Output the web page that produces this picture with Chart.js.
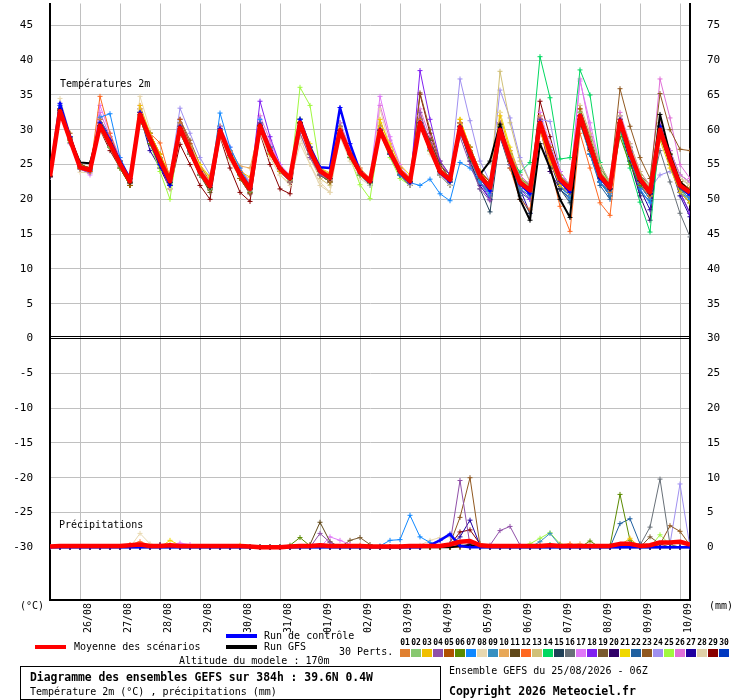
<!DOCTYPE html>
<html lang="fr">
<head>
    <meta charset="UTF-8">
    <title>Ensemble GEFS</title>
    <style>
        * { margin: 0; padding: 0; box-sizing: border-box; }
        body { background: #ffffff; width: 740px; height: 700px; overflow: hidden; }
        canvas { display: block; }
    </style>
</head>
<body>
    <canvas id="gefsChart" width="740" height="700"></canvas>

    <script src="https://cdn.jsdelivr.net/npm/chart.js"></script>
    <script>
        // forecast hours, every 6h from 25/08 06Z
        const hours = [0, 6, 12, 18, 24, 30, 36, 42, 48, 54, 60, 66, 72, 78, 84, 90, 96, 102, 108, 114,
            120, 126, 132, 138, 144, 150, 156, 162, 168, 174, 180, 186, 192, 198, 204, 210, 216, 222, 228, 234,
            240, 246, 252, 258, 264, 270, 276, 282, 288, 294, 300, 306, 312, 318, 324, 330, 336, 342, 348, 354,
            360, 366, 372, 378, 384];

        const dateHours = [18, 42, 66, 90, 114, 138, 162, 186, 210, 234, 258, 282, 306, 330, 354, 378];
        const dateLabels = ['26/08', '27/08', '28/08', '29/08', '30/08', '31/08', '01/09', '02/09',
            '03/09', '04/09', '05/09', '06/09', '07/09', '08/09', '09/09', '10/09'];

        const leftTicks = [-30, -25, -20, -15, -10, -5, 0, 5, 10, 15, 20, 25, 30, 35, 40, 45];
        const rightTickLabels = ['0', '5', '10', '15', '20', '25', '30', '35', '40', '45', '50', '55', '60', '65', '70', '75'];
        const rainOffset = -30; // precipitation drawn on the lower panel: 0 mm sits at -30

        const pertColors = ['#e08030', '#88c870', '#f0c000', '#9050a8', '#b05000', '#5a8a00', '#1088ff', '#e8d8b0',
            '#3890c0', '#e8a858', '#604818', '#ff6820', '#d0c078', '#00d860', '#204058', '#687078', '#e078f8',
            '#8020f0', '#7a5a30', '#300068', '#f0d800', '#2060a0', '#905820', '#a090f0', '#a0f840', '#e070d8',
            '#2000a0', '#e0d0a8', '#880000', '#0038c0'];

        // 2m temperature (°C)
        const tMean = [23.3, 32.7,28.6,24.6,24.2, 30.6,28.0,25.1,22.6, 32.2,28.7,25.6,22.6, 30.3,27.0,23.9,21.9, 29.9,26.3,23.6,21.5, 30.6,27.0,24.4,23.0, 31.0,27.0,24.1,23.1, 29.9,26.5,23.9,22.6, 29.9,26.8,24.0,22.6, 31.0,27.4,24.0,22.8, 30.4,26.7,23.4,21.7, 30.0,25.8,22.4,21.3, 31.0,26.7,22.9,21.5, 32.0,27.7,23.4,21.7, 31.3,26.7,22.9,21.0, 30.0,25.8,22.0,21.0];
        const tCtrl = [23.3, 33.8,29.0,24.7,24.2, 31.0,28.5,25.5,23.0, 32.5,28.5,25.0,22.0, 30.5,27.0,24.0,22.0, 30.2,26.5,23.8,21.6, 30.8,27.2,24.4,23.0, 31.5,27.5,24.6,24.5, 33.2,28.0,24.0,22.5, 30.0,26.5,23.8,22.4, 31.0,27.2,23.8,22.5, 30.5,26.5,23.2,21.2, 30.3,25.8,22.2,20.8, 31.2,26.6,22.6,21.0, 32.0,27.5,23.0,21.5, 31.5,26.8,22.6,20.8, 30.5,25.8,21.8,20.6];
        const tGfs = [23.3, 32.8,28.8,25.3,25.2, 30.6,28.0,25.1,22.4, 32.2,28.5,25.4,22.4, 30.2,26.8,23.8,21.7, 29.8,26.3,23.6,21.5, 30.6,27.0,24.4,23.0, 31.0,27.0,24.1,23.0, 29.9,26.5,23.8,22.5, 29.9,26.8,24.0,22.6, 31.0,27.4,24.0,22.8, 30.4,26.7,23.6,25.5, 30.8,25.5,20.0,17.0, 28.0,24.5,20.0,17.4, 31.5,27.2,23.2,21.5, 31.0,26.5,22.7,20.8, 32.2,26.5,22.5,21.2];

        const t01 = [23.2, 33.0,28.8,24.5,24.0, 31.5,28.5,25.0,22.4, 32.5,29.0,25.8,22.8, 31.0,27.5,24.2,22.0, 30.2,26.8,24.0,21.8, 30.8,27.3,24.6,23.2, 30.5,26.8,24.0,22.8, 30.5,27.0,24.2,22.8, 30.2,27.0,24.5,23.0, 31.5,27.8,24.5,23.2, 31.0,27.0,23.8,22.0, 29.5,25.5,22.8,21.0, 30.5,26.0,22.5,21.2, 31.5,27.0,23.0,21.0, 30.8,26.5,22.5,20.5, 29.5,25.5,22.5,21.5];
        const t02 = [23.3, 32.5,29.0,24.8,24.3, 30.0,27.5,25.0,22.8, 31.8,28.5,25.5,22.5, 29.8,26.5,23.5,21.5, 29.5,26.0,23.4,21.2, 30.2,26.8,24.2,22.8, 31.5,27.5,24.3,23.3, 29.5,26.2,23.5,22.3, 29.8,26.5,23.8,22.5, 30.8,27.0,23.8,22.5, 30.0,26.5,23.2,21.5, 30.5,26.5,23.0,21.8, 31.0,27.0,23.5,22.0, 32.5,28.5,24.0,22.0, 31.0,27.0,23.5,21.5, 29.5,25.5,22.0,20.5];
        const t03 = [23.4, 32.8,28.5,24.5,24.0, 31.0,28.2,25.5,23.0, 33.5,29.5,26.5,23.0, 30.5,27.5,24.5,23.2, 29.5,26.0,24.0,23.2, 30.0,26.5,24.0,22.8, 31.2,27.5,24.5,23.8, 30.2,26.8,24.2,22.8, 31.5,27.5,24.5,22.8, 30.5,27.0,23.8,22.5, 31.5,27.5,24.0,22.0, 32.0,27.0,23.0,21.8, 30.0,25.5,22.0,20.8, 31.5,27.5,23.5,22.0, 31.5,26.5,22.5,20.5, 28.5,24.5,21.0,19.5];
        const t04 = [23.2, 32.5,28.0,24.3,23.8, 30.5,27.8,24.8,22.5, 32.0,28.5,25.3,22.0, 30.0,26.5,23.5,21.5, 30.0,26.2,23.5,21.2, 31.0,27.0,24.0,22.5, 29.5,26.0,23.5,22.8, 30.0,26.5,23.8,22.3, 30.0,27.0,24.0,22.3, 32.5,28.0,24.5,22.5, 29.0,25.0,21.5,19.8, 29.0,25.0,22.0,21.0, 31.5,27.0,22.8,21.0, 32.0,27.5,23.5,21.5, 31.0,27.0,23.0,21.0, 30.5,26.0,22.0,20.5];
        const t05 = [23.3, 33.0,29.5,25.0,24.5, 31.0,28.0,25.0,22.0, 32.5,29.5,26.5,23.0, 31.5,28.0,24.0,21.5, 30.0,26.5,23.0,20.8, 30.5,26.5,24.0,22.5, 31.0,27.0,24.0,22.5, 30.0,26.5,24.0,22.8, 29.5,26.5,24.2,22.8, 31.5,28.0,24.5,22.8, 30.5,27.0,24.0,22.5, 30.5,26.5,22.8,21.5, 31.5,27.5,23.5,22.0, 33.0,28.5,24.0,22.0, 31.0,27.0,23.0,21.0, 30.0,26.0,22.5,21.5];
        const t06 = [23.3, 32.3,28.2,24.4,24.0, 30.5,27.5,24.5,22.0, 31.5,28.0,25.0,22.0, 29.5,26.5,23.5,21.3, 29.5,26.0,23.0,21.0, 30.5,27.0,24.0,22.8, 31.0,26.5,23.5,22.5, 29.5,26.0,23.5,22.3, 29.5,26.5,24.0,22.5, 30.5,27.0,24.0,22.8, 30.0,26.0,23.0,21.5, 29.5,25.5,22.0,21.0, 30.0,26.0,22.5,21.0, 31.0,27.0,23.0,21.5, 29.0,25.0,22.0,21.0, 29.0,25.0,21.5,20.5];
        const t07 = [23.2, 33.5,29.0,24.8,24.5, 31.8,32.3,26.0,23.0, 32.5,29.5,26.0,22.5, 31.0,27.5,24.0,22.0, 32.4,27.5,24.5,22.0, 31.5,27.5,24.5,22.8, 31.5,27.5,24.2,23.0, 30.5,27.0,24.0,22.8, 30.0,26.5,23.5,22.4, 22.0,22.9,20.8,19.8, 25.3,24.5,22.5,20.8, 29.5,25.5,22.0,20.8, 30.5,26.0,22.0,20.5, 31.5,26.5,22.5,20.8, 30.5,26.0,21.5,19.5, 29.5,25.0,21.0,20.0];
        const t08 = [23.4, 34.5,29.5,23.9,23.8, 30.0,27.5,24.5,22.5, 34.8,30.0,25.0,21.5, 29.5,26.5,23.5,21.5, 29.0,25.5,23.0,21.0, 30.0,26.0,23.5,22.3, 28.0,25.0,22.5,21.0, 29.0,25.5,23.0,22.0, 33.0,27.5,24.0,22.0, 31.0,26.5,23.5,22.0, 30.5,26.5,23.0,21.0, 32.5,26.0,22.0,21.0, 31.5,27.5,23.5,21.8, 32.5,28.0,24.0,22.0, 31.0,26.5,22.5,21.0, 30.0,26.0,23.0,22.0];
        const t09 = [23.3, 32.5,28.5,24.5,24.2, 30.5,28.0,25.5,23.0, 31.5,28.5,25.5,22.5, 30.0,27.0,24.0,22.0, 30.0,26.5,23.8,21.8, 30.0,26.5,24.5,23.0, 31.0,27.0,24.0,23.0, 29.5,26.0,23.5,22.5, 29.5,26.5,23.5,22.0, 30.5,27.0,23.5,22.0, 30.0,26.0,22.5,20.5, 29.5,25.0,21.5,20.5, 30.5,26.0,22.0,20.0, 31.0,26.5,22.5,20.5, 30.5,26.0,22.0,20.0, 30.0,25.5,21.5,20.0];
        const t10 = [23.2, 32.8,28.5,24.7,24.3, 31.0,28.5,25.5,23.0, 32.0,28.5,26.0,23.5, 30.5,27.5,24.5,22.5, 30.0,27.0,24.8,24.5, 30.5,27.0,24.5,23.0, 31.5,27.5,24.5,23.5, 30.5,27.0,24.5,23.0, 30.5,27.5,24.5,23.0, 31.0,27.5,24.0,23.0, 31.0,27.0,23.5,22.0, 30.0,26.0,23.0,21.5, 32.0,27.5,23.5,22.0, 32.5,28.0,24.0,22.5, 31.5,27.0,23.5,21.5, 30.0,26.0,22.5,21.5];
        const t11 = [23.3, 33.0,29.0,25.0,24.5, 30.5,27.5,24.5,22.0, 32.0,29.5,26.0,22.5, 30.5,27.0,23.5,21.0, 29.5,26.0,23.0,21.0, 30.5,27.0,24.5,23.0, 31.5,27.0,24.0,23.0, 30.0,26.5,23.5,22.5, 30.5,27.0,23.5,22.0, 31.5,28.5,25.0,23.0, 31.0,27.5,24.0,22.5, 30.5,26.0,22.5,21.5, 31.5,27.0,23.0,21.5, 32.0,27.5,23.5,22.0, 31.0,27.0,23.0,21.5, 30.5,26.5,22.5,21.5];
        const t12 = [23.3, 32.8,28.5,24.5,24.0, 34.8,29.5,25.5,23.0, 32.0,29.5,28.1,23.0, 30.0,27.0,24.0,22.0, 30.0,26.5,24.0,22.0, 30.5,27.0,24.5,23.0, 31.0,27.0,24.0,23.0, 30.0,26.5,23.5,22.5, 29.5,26.5,23.5,22.0, 30.5,27.0,23.5,22.0, 30.0,26.0,22.5,21.0, 29.5,24.5,20.0,18.5, 30.0,25.0,19.0,15.4, 29.5,24.5,19.5,17.7, 30.5,26.0,22.0,20.5, 29.5,25.0,21.5,20.5];
        const t13 = [23.4, 32.5,28.5,24.5,24.0, 31.0,28.0,25.0,22.5, 33.0,29.0,25.5,22.5, 30.5,27.5,24.0,21.8, 30.0,26.5,23.5,21.5, 30.0,26.5,24.0,22.5, 29.5,26.0,23.0,22.0, 30.0,26.5,24.0,22.5, 30.5,27.0,24.5,23.0, 31.5,28.0,24.5,23.0, 31.0,27.0,23.5,22.0, 38.4,31.0,25.5,22.5, 31.0,26.5,22.5,21.0, 33.5,29.5,25.0,22.5, 32.0,28.0,24.0,22.0, 30.5,26.5,23.0,22.0];
        const t14 = [23.3, 32.5,28.5,24.5,24.2, 30.0,27.5,25.0,22.5, 31.5,28.5,25.5,22.5, 30.0,27.0,23.5,21.5, 29.5,26.0,23.5,21.5, 30.5,27.0,24.5,23.0, 31.0,27.0,24.0,23.0, 29.5,26.5,23.5,22.5, 29.5,26.5,24.0,22.5, 30.5,27.0,24.0,22.5, 30.0,26.5,23.0,21.5, 29.5,26.0,23.9,25.3, 40.5,34.6,25.8,26.0, 38.6,35.0,25.3,22.0, 30.0,24.5,19.6,15.3, 30.0,25.5,22.0,21.0];
        const t15 = [23.3, 33.0,29.0,24.8,24.3, 30.5,28.5,25.5,22.5, 32.0,28.5,25.0,22.0, 30.0,26.5,23.5,21.5, 30.0,26.5,23.5,21.5, 31.0,27.5,24.5,23.0, 31.0,27.0,24.5,23.0, 30.0,26.5,24.0,22.5, 29.5,26.5,24.0,22.5, 31.0,27.5,23.5,22.0, 30.0,25.5,21.5,18.2, 29.0,24.5,20.5,18.0, 31.0,26.0,21.5,19.5, 31.5,27.0,22.5,20.5, 30.5,26.5,22.0,20.0, 29.5,25.0,21.0,19.5];
        const t16 = [23.3, 32.5,28.5,24.5,24.0, 30.5,27.5,25.0,22.5, 31.5,28.0,25.0,22.0, 29.5,26.5,23.5,21.5, 29.5,26.0,23.5,21.5, 30.0,26.5,24.0,22.5, 30.5,26.5,23.5,22.5, 29.5,26.0,23.5,22.5, 30.0,26.5,23.5,22.0, 30.5,27.0,23.5,22.0, 29.5,26.0,22.5,21.0, 29.5,25.0,21.5,20.5, 30.0,25.5,22.0,20.5, 31.0,26.5,22.5,21.0, 30.5,26.0,22.0,20.5, 27.0,22.5,18.0,14.6];
        const t17 = [23.2, 33.5,29.0,24.5,23.5, 33.5,29.5,26.0,23.0, 33.5,29.0,25.5,22.5, 31.5,28.0,24.5,22.5, 30.5,27.5,24.5,22.5, 31.0,28.0,25.0,23.5, 30.5,27.0,24.0,22.5, 31.0,27.5,24.5,23.0, 34.8,29.0,25.0,23.0, 32.0,28.0,24.5,23.0, 31.0,27.5,24.0,22.5, 31.0,27.0,23.5,22.0, 32.5,28.0,24.0,22.0, 37.0,31.0,25.0,22.5, 32.0,28.0,24.0,22.0, 31.0,27.0,23.5,22.5];
        const t18 = [23.3, 32.8,28.5,24.5,24.0, 31.0,28.0,25.0,22.5, 33.0,29.0,25.5,22.5, 30.5,27.0,24.0,22.0, 30.0,26.5,23.5,21.5, 34.1,29.0,25.0,23.0, 30.5,26.5,23.5,22.5, 30.0,26.5,23.5,22.5, 30.0,27.0,24.0,22.0, 38.5,31.5,25.5,23.5, 31.0,26.5,22.5,20.0, 30.0,25.5,21.5,20.0, 31.5,26.5,22.0,20.5, 32.5,27.5,23.0,21.0, 31.0,26.5,22.0,20.0, 30.0,25.5,21.0,18.0];
        const t19 = [23.3, 32.5,28.5,24.8,24.5, 30.0,27.5,24.8,22.3, 32.0,28.5,25.5,22.5, 30.0,27.0,23.5,21.5, 29.5,26.0,23.0,21.0, 30.5,27.0,24.0,22.5, 30.5,27.0,24.0,22.5, 29.5,26.5,23.5,22.5, 29.5,26.5,24.0,22.5, 31.5,28.5,25.0,23.5, 31.0,27.5,24.0,22.5, 31.0,27.0,23.5,22.0, 31.5,27.5,23.5,22.0, 32.5,28.0,24.0,22.0, 31.5,27.5,23.5,22.0, 31.0,27.0,23.5,22.5];
        const t20 = [23.3, 32.8,28.5,24.5,24.0, 30.5,28.0,25.0,22.5, 31.5,28.5,25.5,22.5, 30.5,27.0,24.0,22.0, 30.0,26.5,23.5,21.5, 30.5,27.0,24.5,23.0, 31.0,27.0,24.0,22.8, 30.0,26.5,23.5,22.5, 29.5,26.5,24.0,22.5, 30.5,27.5,24.0,22.5, 30.0,26.0,23.0,21.0, 29.0,25.0,22.0,21.0, 30.5,24.0,21.5,21.5, 31.0,27.0,22.5,21.0, 30.5,25.5,20.5,17.0, 29.5,25.0,21.0,18.0];
        const t21 = [23.3, 33.0,29.0,25.0,24.5, 31.0,28.5,25.5,23.0, 33.0,29.5,26.5,23.5, 31.0,28.0,25.0,23.2, 30.5,27.0,24.5,22.5, 31.0,27.5,24.5,23.5, 31.5,28.0,24.5,23.5, 31.0,27.0,24.5,23.0, 31.0,28.0,25.0,23.5, 32.0,28.0,24.5,23.0, 31.5,27.5,24.0,22.5, 32.5,27.5,23.5,22.0, 31.5,27.0,23.0,21.5, 32.5,28.0,24.0,22.0, 31.5,27.0,23.0,21.0, 31.0,26.0,21.5,19.5];
        const t22 = [23.3, 33.0,28.5,24.5,24.0, 31.5,28.5,25.0,22.5, 32.0,28.5,25.0,22.0, 30.0,27.0,23.5,21.5, 30.0,26.0,23.0,21.0, 30.5,27.0,24.5,22.5, 31.0,27.0,24.0,22.5, 30.0,26.5,23.5,22.0, 30.0,26.5,23.5,22.0, 31.0,27.0,23.5,22.0, 30.5,26.0,22.5,20.5, 30.0,25.0,21.0,20.0, 31.0,26.0,21.5,20.0, 31.5,26.5,22.0,20.0, 30.5,25.5,21.0,19.8, 30.5,25.5,21.5,20.0];
        const t23 = [23.3, 33.0,29.0,25.0,24.5, 31.0,28.0,25.0,22.5, 32.5,29.0,26.0,23.0, 31.5,28.5,25.0,22.5, 30.5,27.0,24.0,22.0, 31.0,27.5,24.5,23.0, 31.5,27.5,24.5,23.5, 30.5,27.0,24.0,23.0, 30.5,27.0,24.0,22.5, 35.3,30.0,25.5,23.5, 31.0,27.0,23.5,22.0, 31.0,26.5,23.0,22.0, 32.0,27.5,23.5,22.0, 33.0,29.0,24.5,22.5, 35.9,30.5,26.0,23.0, 35.2,30.0,27.2,27.0];
        const t24 = [23.3, 32.5,28.5,24.5,24.0, 31.0,28.0,25.0,23.0, 32.0,28.5,25.5,23.5, 33.1,29.5,26.0,23.5, 30.5,27.0,24.0,22.5, 31.0,27.5,24.5,23.0, 30.5,27.0,24.0,23.0, 30.0,26.5,24.0,22.5, 30.5,27.5,24.5,23.0, 31.5,28.0,24.5,23.0, 37.3,31.3,25.5,22.5, 35.7,31.7,26.0,22.5, 31.5,31.2,24.0,22.0, 32.5,28.0,24.0,22.0, 31.5,27.0,23.0,21.5, 23.5,24.0,23.0,22.0];
        const t25 = [23.3, 32.8,29.0,24.5,24.0, 30.5,27.5,24.5,22.0, 31.5,28.0,24.0,20.0, 30.0,26.5,23.5,21.5, 29.5,26.0,23.0,21.0, 30.5,27.0,24.0,22.5, 36.1,33.5,24.5,22.5, 30.0,26.0,22.1,20.1, 29.5,26.0,23.0,22.0, 30.5,27.0,24.0,22.5, 30.5,26.5,23.0,21.5, 30.0,26.0,23.0,22.0, 31.0,27.0,23.5,22.0, 32.0,28.0,24.0,22.5, 31.0,27.0,23.5,21.5, 30.5,26.5,23.0,22.0];
        const t26 = [23.2, 33.0,28.5,24.5,24.0, 32.5,29.0,25.5,23.0, 32.0,28.5,25.5,22.5, 31.0,27.5,24.5,22.5, 30.0,27.0,24.0,22.0, 32.0,28.5,25.0,23.0, 30.5,27.0,24.0,23.0, 30.5,27.0,24.0,22.5, 33.5,28.5,24.5,22.5, 33.0,29.0,25.0,23.5, 31.0,27.0,23.5,22.0, 31.0,26.5,23.0,21.5, 31.5,27.5,23.5,22.0, 37.3,30.0,25.0,22.5, 32.5,28.0,24.0,22.0, 37.3,31.7,25.0,23.0];
        const t27 = [23.3, 33.0,28.5,24.5,24.0, 31.0,28.0,25.0,22.3, 32.0,27.0,24.5,22.0, 30.0,26.5,23.5,21.5, 29.5,26.0,23.0,20.8, 30.5,27.0,24.0,22.5, 31.0,27.0,24.0,22.8, 30.0,26.5,23.5,22.5, 29.5,26.5,23.5,22.0, 31.0,27.5,24.0,22.5, 30.0,25.5,22.0,20.0, 29.5,25.0,21.5,18.0, 30.5,25.5,21.5,20.0, 31.5,26.5,22.5,20.5, 30.0,25.5,21.5,18.5, 29.5,25.0,20.5,17.5];
        const t28 = [23.4, 33.5,29.0,24.5,24.0, 31.0,28.0,25.0,22.5, 32.5,29.0,25.5,22.5, 30.5,27.0,24.0,22.0, 29.5,26.0,23.5,21.5, 29.5,26.0,23.5,22.0, 29.0,25.0,22.0,21.0, 30.0,26.0,23.5,22.5, 30.5,27.0,24.0,22.5, 31.0,27.5,24.0,22.5, 30.5,26.5,23.0,21.5, 31.0,26.0,22.5,21.5, 31.0,26.5,23.0,21.5, 32.5,28.5,24.0,22.0, 31.0,26.5,22.5,21.0, 30.5,26.5,23.0,22.5];
        const t29 = [23.3, 32.5,28.5,24.5,24.0, 30.0,27.0,24.5,22.0, 31.5,28.0,24.5,21.5, 27.9,25.0,22.0,20.0, 29.0,24.5,21.0,19.7, 29.5,25.0,21.5,20.8, 30.5,26.5,23.5,22.5, 30.0,26.5,23.5,22.5, 30.0,27.0,24.0,22.5, 35.1,29.5,25.0,23.0, 30.5,26.5,23.0,21.5, 30.5,26.5,23.0,21.5, 34.1,29.0,24.0,22.0, 32.0,27.5,23.5,21.5, 31.0,27.0,23.0,21.0, 30.0,25.5,22.0,21.0];
        const t30 = [23.2, 33.5,29.0,25.0,24.5, 31.5,29.0,25.5,22.8, 32.5,29.0,25.5,22.5, 30.5,27.0,24.0,22.0, 30.5,27.0,24.0,21.5, 31.0,27.5,24.5,23.0, 31.5,27.5,24.5,23.0, 31.0,27.0,24.0,22.8, 30.5,27.0,24.0,22.5, 31.5,28.0,24.5,22.5, 31.0,27.0,23.5,21.5, 30.5,26.0,22.5,21.0, 31.5,27.0,23.0,21.5, 32.5,28.0,23.5,21.5, 32.0,27.5,23.0,21.0, 30.5,26.0,22.0,20.5];

        // precipitation (mm per 6h)
        const pMean = [0.1, 0.2,0.2,0.2,0.2, 0.2,0.2,0.2,0.3, 0.4,0.2,0.2,0.3, 0.2,0.2,0.2,0.2, 0.2,0.2,0.2,0.1, 0,0,0,0.1, 0.2,0.2,0.3,0.2, 0.2,0.2,0.2,0.1, 0.1,0.1,0.1,0.2, 0.2,0.2,0.2,0.4, 0.8,0.9,0.3,0.2, 0.2,0.2,0.2,0.2, 0.2,0.3,0.2,0.2, 0.2,0.2,0.2,0.2, 0.5,0.5,0.2,0.3, 0.7,0.7,0.8,0.4];
        const pCtrl = [0, 0,0,0,0, 0,0,0,0, 0,0,0,0, 0,0,0,0, 0,0,0,0, 0,0,0,0, 0,0,0,0, 0,0,0,0, 0,0,0,0, 0,0.3,1.0,1.9, 0.2,0,0,0, 0,0,0,0, 0,0,0,0, 0,0,0,0, 0,0,0,0, 0,0,0,0];
        const pGfs = [0, 0,0,0,0, 0,0,0,0, 0,0,0,0, 0,0,0,0, 0,0,0,0, 0,0,0,0, 0,0,0,0, 0,0,0,0, 0,0,0,0, 0,0,0,0, 0.2,0.3,0,0, 0,0,0,0, 0,0,0,0, 0,0,0,0, 0,0,0,0, 0,0,0,0];

        const p01 = [0, 0,0,0,0, 0,0,0,0, 0,0,0,0, 0,0,0,0, 0,0,0,0, 0,0,0,0, 0,0,0,0, 0,0,0,0, 0,0,0,0, 0,0,0,0, 0,0,0,0, 0,0,0,0, 0.3,0,0,0, 0,0,0,0, 0,0,0,0, 0,0,0,0];
        const p02 = [0, 0,0,0,0, 0,0,0,0, 0,0,0,0, 0,0,0,0, 0,0,0,0, 0,0,0,0, 0,0,0,0, 0,0,0,0, 0,0,0,0, 0,0,0,0, 0,0,0,0, 0,0,0,0, 0,0,0,0, 0,0,0,0, 0,0,0,0, 0,0,0,0];
        const p03 = [0, 0,0,0,0, 0,0,0,0, 0,0,0,0, 0,0,0,0, 0,0,0,0, 0,0,0,0, 0,0,0,0, 0,0,0,0, 0,0,0,0, 0,0,0,0, 0,0,0,0, 0,0,0,0, 0,0,0,0, 0,0,0,0, 0.3,1.3,0,0, 0,0,0,0];
        const p04 = [0, 0,0,0,0, 0,0,0,0, 0,0,0,0, 0,0,0,0, 0,0,0,0, 0,0,0,0, 0,0,2.0,0.7, 0,0,0,0, 0,0,0,0, 0,0,0,0.5, 9.6,0.3,0,0.3, 2.4,3.0,0.3,0, 0,0,0,0, 0,0,0,0, 0,0,0,0, 0,0,0,0];
        const p05 = [0, 0,0,0,0, 0,0,0,0, 0,0,0,0, 0,0,0,0, 0,0,0,0, 0,0,0,0, 0,0,0,0, 0,0,0,0, 0,0,0,0, 0,0,0,0, 0.3,0,0,0, 0,0,0,0, 0,0,0,0, 0,0,0,0, 0,0,0,0, 0,0,0,0];
        const p06 = [0, 0,0,0,0, 0,0,0,0, 0,0,0,0, 0,0,0,0, 0,0,0,0, 0,0,0,0.3, 1.4,0.2,0,0, 0,0,0,0, 0,0,0,0, 0,0,0,0, 0,0,0,0, 0,0,0,0, 0,0,0,0, 0,0.9,0,0.2, 7.6,1.0,0,0, 0,0,0,0];
        const p07 = [0, 0,0,0,0, 0,0,0,0, 0,0,0,0, 0,0,0,0, 0,0,0,0, 0,0,0,0, 0,0,0,0, 0,0,0,0, 0.2,1.0,1.1,4.6, 1.5,0.7,0,0, 0,0,0,0, 0,0,0,0, 0,0,0,0, 0,0,0,0, 0,0,0,0, 0,0,0,0];
        const p08 = [0, 0,0,0,0, 0,0,0,0, 2.0,0.5,0,0, 0,0,0,0, 0,0,0,0, 0,0,0,0, 0,0,0,0, 0,0,0,0, 0,0,0,0, 0.3,1.0,1.4,1.5, 0,0,0,0, 0,0,0,0, 0,0,0,0, 0,0,0,0, 0,0,0,0, 0,0,0,0];
        const p09 = [0, 0,0,0,0, 0,0,0,0, 0,0,0,0, 0,0,0,0, 0,0,0,0, 0,0,0,0, 0,0,0,0, 0,0,0,0, 0,0,0,0, 0,0,0,0, 0,0,0,0, 0,0,0,0, 0.8,2.0,0.3,0, 0,0,0,0, 0,0,0,0, 0,0,0,0];
        const p10 = [0, 0,0,0,0, 0,0,0,0, 0,0,0,0, 0,0,0,0, 0,0,0,0, 0,0,0,0, 0,0,0,0, 0,0,0,0, 0,0,0,0, 0,0,0,0, 0,0.3,0.5,0, 0,0,0,0, 0,0,0,0.4, 0.5,0,0,0, 0,0,0,0, 0,0,0,0];
        const p11 = [0, 0,0,0,0, 0,0,0,0, 0,0,0,0, 0,0,0,0, 0,0,0,0, 0,0,0,0, 0,0.4,3.6,0.8, 0,0,0,0, 0,0,0,0, 0,0,0,0, 0,0,0,0, 0,0,0,0, 0,0,0,0, 0,0,0,0, 0,0,0,0, 0,0,0,0];
        const p12 = [0, 0,0,0,0, 0,0,0,0.4, 0.8,0.3,0,0, 0,0,0,0, 0,0,0,0, 0,0,0,0, 0,0,0,0, 0,0,0.3,0, 0,0,0,0, 0,0,0,0, 0,0,0,0, 0,0,0,0, 0,0,0.4,0.5, 0,0,0,0, 0,0,0,0, 0,0,0,0];
        const p13 = [0, 0,0,0,0, 0,0,0,0, 0,0,0,0, 0,0,0,0, 0,0,0,0, 0,0,0,0, 0,0,0,0, 0,0,0,0, 0,0,0,0, 0,0,0,0, 0.2,0,0,0, 0,0,0,0, 0,0,0,0, 0,0,0,0, 0,0,0,0, 0,0,0,0];
        const p14 = [0, 0,0,0,0, 0,0,0,0, 0,0,0,0, 0,0,0,0, 0,0,0,0, 0,0,0,0, 0,0,0,0, 0,0,0,0, 0,0,0,0, 0,0,0,0, 0,0,0,0, 0,0,0,0, 0,0.4,0,0, 0,0,0,0, 0,0,0,0, 0,0,0,0];
        const p15 = [0, 0,0,0,0, 0,0,0,0, 0,0,0,0, 0,0,0,0, 0,0,0,0, 0,0,0,0, 0,0,0,0, 0,0,0,0, 0,0,0,0, 0,0,0,0, 0,0,0,0, 0,0,0,0, 0,0,0,0, 0,0,0,0, 0,0,0,0, 0,0,0,0];
        const p16 = [0, 0,0,0,0, 0,0,0,0, 0,0,0,0, 0,0,0,0, 0,0,0,0, 0,0,0,0, 0,0,0,0, 0,0,0,0, 0,0,0,0, 0,0,0,0, 0,0,0,0, 0,0,0,0, 0,0,0,0, 0,0,0,0, 0,0,0.3,2.9, 9.8,0.4,0,0];
        const p17 = [0, 0,0,0,0, 0,0,0,0, 0,0,0,0.3, 0.6,0.4,0,0, 0,0,0,0, 0,0,0,0, 0,0,0,1.5, 1.0,0.4,0,0, 0,0,0,0, 0,0,0,0, 0,0,0,0, 0,0,0,0, 0,0,0,0, 0,0,0,0, 0,0,0,0, 0,0,0,0];
        const p18 = [0, 0,0,0,0, 0,0,0,0, 0,0,0,0, 0,0,0,0, 0,0,0,0, 0,0,0,0, 0,0,0,0, 0,0,0,0, 0,0,0,0, 0,0,0,0, 0.3,0,0,0, 0,0,0,0, 0,0,0,0, 0,0,0,0, 0,0,0,0, 0,0,0,0];
        const p19 = [0, 0,0,0,0, 0,0,0,0, 0,0,0,0, 0,0,0,0, 0,0,0,0, 0,0,0,0, 0,0,0,0, 0,1.0,1.4,0.4, 0,0,0,0, 0,0,0,0, 0,0,0,0, 0,0,0,0, 0,0,0,0, 0,0,0,0, 0,0,0,1.5, 0.5,0,0,0];
        const p20 = [0, 0,0,0,0, 0,0,0,0, 0,0,0,0, 0,0,0,0, 0,0,0,0, 0,0,0,0, 0,0,0,0, 0,0,0,0, 0,0,0,0, 0,0,0,0, 0,0.5,0,0, 0,0,0,0, 0,0,0,0, 0,0,0,0, 0,0,0,0, 0,0,0,0];
        const p21 = [0, 0,0,0,0, 0,0,0,0, 0,0,0,1.0, 0.3,0,0,0, 0,0,0.3,0, 0,0,0,0, 0,0,0,0, 0,0,0,0, 0,0,0,0, 0,0,0,0, 0,0,0,0, 0,0,0,0, 0,0,0,0, 0,0,0,0, 0,0.5,0,0, 0,0,0,0];
        const p22 = [0, 0,0,0,0, 0,0,0,0, 0,0,0,0, 0,0,0,0, 0,0,0,0, 0,0,0,0, 0,0,0,0, 0,0,0,0, 0,0,0,0, 0,0,0,0, 0,0,0,0, 0,0,0,0, 0,0,0,0, 0,0,0,0, 3.4,4.1,0.5,0, 0,0,0,0];
        const p23 = [0, 0,0,0,0, 0,0,0,0, 0,0,0,0, 0,0,0,0, 0,0,0,0, 0,0,0,0, 0,0,0,0, 0,0,0,0, 0,0,0,0, 0,0,0,0.5, 4.3,10.0,0.3,0, 0,0,0,0, 0,0,0,0, 0,0,0,0, 0,0,0,0, 0.4,3.1,2.3,0.3];
        const p24 = [0, 0,0,0,0, 0,0,0,0, 0,0,0,0, 0,0,0,0, 0,0,0,0, 0,0,0,0, 0,0,0,0, 0,0,0,0, 0,0,0,0, 0,0,0,0, 0,0,0,0, 0,0,0,0, 0,0,0,0, 0,0,0,0, 0,0,0,0, 0,0.5,9.1,0];
        const p25 = [0, 0,0,0,0, 0,0,0,0, 0,0,0,0, 0,0,0,0, 0,0,0,0, 0,0,0,0, 0,0,0,0, 0,0,0,0, 0,0,0,0, 0,0,0,0, 0,0,0,0, 0,0,0,0.5, 1.3,2.1,0.5,0, 0,0,0,0, 0,0,0,0, 1.8,0.4,0,0];
        const p26 = [0, 0,0,0,0, 0,0,0,0, 0,0,0,0, 0,0,0,0, 0,0,0,0, 0,0,0,0, 0,0,0,0, 0,0,0,0, 0,0,0,0, 0,0,0,0, 0,0,0,0, 0,0,0,0, 0,0,0,0, 0,0,0,0, 0,0,0,0, 0.3,0,0,0];
        const p27 = [0, 0,0,0,0, 0,0,0,0, 0,0,0.3,0, 0,0,0,0, 0,0,0,0, 0,0,0,0, 0,0,0,0, 0,0,0,0, 0,0,0,0, 0,0,0,0.3, 1.5,3.9,0.3,0, 0,0,0,0, 0,0,0,0, 0,0,0,0, 0,0,0,0, 0,0,0,0];
        const p28 = [0, 0,0,0,0, 0,0,0,0, 0,0,0,0, 0,0,0,0, 0,0,0,0, 0,0,0,0, 0,0,0,0, 0,0,0,0, 0,0,0,0, 0,0.3,0,0, 0,0,0,0, 0,0,0,0, 0,0,0,0, 0,0,0,0, 0,0,0,0, 0,0,0,0];
        const p29 = [0, 0,0,0,0, 0,0,0,0, 0,0,0.4,0, 0,0,0,0, 0,0,0,0, 0,0,0,0, 0,0,0,0, 0,0,0,0, 0,0,0,0, 0,0,0,0.3, 2.2,2.5,0.5,0, 0,0,0,0, 0,0,0,0, 0,0,0,0, 0,0,0,0, 0,0,0,0];
        const p30 = [0, 0,0,0,0, 0,0,0,0, 0,0,0,0, 0,0,0,0, 0,0,0,0, 0,0,0,0, 0,0,0,0, 0,0,0,0, 0,0,0,0, 0,0,0,0, 0,0,0,0, 0,0,0,0, 0,0,0,0, 0,0,0,0, 0,0.3,0,0, 0,0,0,0];

        const pertTemps = [t01, t02, t03, t04, t05, t06, t07, t08, t09, t10, t11, t12, t13, t14, t15,
            t16, t17, t18, t19, t20, t21, t22, t23, t24, t25, t26, t27, t28, t29, t30];
        const pertRain = [p01, p02, p03, p04, p05, p06, p07, p08, p09, p10, p11, p12, p13, p14, p15,
            p16, p17, p18, p19, p20, p21, p22, p23, p24, p25, p26, p27, p28, p29, p30];

        // 7 px per degree, 0 sits at y=337 of a 600px plot
        const yMax = 337 / 7;
        const yMin = yMax - 600 / 7;

        const MONO = '"DejaVu Sans Mono", "Liberation Mono", monospace';

        function points(values, offset) {
            return values.map((v, i) => ({ x: hours[i], y: v + offset }));
        }

        function lineSet(values, offset, color, width, order, radius) {
            return {
                data: points(values, offset),
                borderColor: color,
                backgroundColor: color,
                borderWidth: width,
                pointStyle: 'cross',
                pointRadius: radius,
                pointBorderWidth: 1,
                pointBorderColor: color,
                pointHoverRadius: 0,
                borderJoinStyle: 'round',
                fill: false,
                tension: 0,
                order: order,
                yAxisID: 'y'
            };
        }

        const datasets = [];
        pertTemps.forEach((vals, i) => datasets.push(lineSet(vals, 0, pertColors[i], 1, 3, 2.5)));
        pertRain.forEach((vals, i) => datasets.push(lineSet(vals, rainOffset, pertColors[i], 1, 3, 2.5)));
        datasets.push(lineSet(tCtrl, 0, '#0000ff', 2.5, 2, 2.5));
        datasets.push(lineSet(pCtrl, rainOffset, '#0000ff', 2.5, 1, 2.5));
        datasets.push(lineSet(tGfs, 0, '#000000', 2, 1, 2.5));
        datasets.push(lineSet(pGfs, rainOffset, '#000000', 2, 2, 2.5));
        datasets.push(lineSet(tMean, 0, '#ff0000', 4.5, 0, 0));
        datasets.push(lineSet(pMean, rainOffset, '#ff0000', 4.5, 0, 0));

        const decorPlugin = {
            id: 'decor',
            afterDraw(chart) {
                const ctx = chart.ctx;
                const xs = chart.scales.x;
                const ys = chart.scales.y;
                const area = chart.chartArea;
                ctx.save();

                // double line between the two panels
                const y0 = Math.round(ys.getPixelForValue(0));
                ctx.strokeStyle = '#000';
                ctx.lineWidth = 1;
                ctx.beginPath();
                ctx.moveTo(area.left, y0 - 2.5); ctx.lineTo(area.right, y0 - 2.5);
                ctx.moveTo(area.left, y0 - 0.5); ctx.lineTo(area.right, y0 - 0.5);
                ctx.stroke();

                ctx.fillStyle = '#000';
                ctx.textBaseline = 'middle';
                ctx.textAlign = 'left';
                ctx.font = '10px ' + MONO;
                ctx.fillText('Températures 2m', 60, 84);
                ctx.fillText('Précipitations', 59, 525);
                ctx.fillText('(°C)', 20, 606);
                ctx.fillText('(mm)', 709, 606);

                // rotated date labels
                dateHours.forEach((h, i) => {
                    ctx.save();
                    ctx.translate(xs.getPixelForValue(h) + 8, 603);
                    ctx.rotate(-Math.PI / 2);
                    ctx.textAlign = 'right';
                    ctx.fillText(dateLabels[i], 0, 0);
                    ctx.restore();
                });

                // legend
                ctx.fillStyle = '#ff0000';
                ctx.fillRect(35, 645, 31, 4);
                ctx.fillStyle = '#0000ff';
                ctx.fillRect(226, 634, 31, 4);
                ctx.fillStyle = '#000000';
                ctx.fillRect(226, 645, 31, 4);
                ctx.fillText('Moyenne des scénarios', 74, 647);
                ctx.fillText('Run de contrôle', 264, 636);
                ctx.fillText('Run GFS', 264, 647);
                ctx.fillText('30 Perts.', 339, 652);
                ctx.fillText('Altitude du modele : 170m', 179, 661);

                ctx.textAlign = 'center';
                ctx.font = 'bold 8px ' + MONO;
                pertColors.forEach((c, i) => {
                    const x = 400 + 11 * i;
                    ctx.fillStyle = '#000';
                    ctx.fillText(String(i + 1).padStart(2, '0'), x + 5, 643);
                    ctx.fillStyle = c;
                    ctx.fillRect(x, 649, 10, 8);
                });

                // title box
                ctx.strokeStyle = '#000';
                ctx.lineWidth = 1;
                ctx.strokeRect(20.5, 666.5, 420, 33);
                ctx.fillStyle = '#000';
                ctx.textAlign = 'left';
                ctx.font = 'bold 11.4px ' + MONO;
                ctx.fillText('Diagramme des ensembles GEFS sur 384h : 39.6N 0.4W', 30, 678);
                ctx.font = '10px ' + MONO;
                ctx.fillText('Température 2m (°C) , précipitations (mm)', 30, 692);
                ctx.fillText('Ensemble GEFS du 25/08/2026 - 06Z', 449, 671);
                ctx.font = 'bold 11.5px ' + MONO;
                ctx.fillText('Copyright 2026 Meteociel.fr', 449, 692);

                ctx.restore();
            }
        };

        const tickFont = { family: MONO, size: 11 };

        new Chart(document.getElementById('gefsChart'), {
            type: 'line',
            data: { datasets: datasets },
            options: {
                responsive: false,
                animation: false,
                events: [],
                layout: { padding: 0 },
                plugins: {
                    legend: { display: false },
                    tooltip: { enabled: false }
                },
                scales: {
                    x: {
                        type: 'linear',
                        min: 0,
                        max: 384,
                        bounds: 'data',
                        afterBuildTicks: s => { s.ticks = dateHours.map(v => ({ value: v })); },
                        afterFit: s => { s.height = 100; s.paddingLeft = 0; s.paddingRight = 0; },
                        grid: { color: '#c0c0c0', lineWidth: 1, drawTicks: false },
                        border: { color: '#000', width: 2 },
                        ticks: { display: false }
                    },
                    y: {
                        position: 'left',
                        min: yMin,
                        max: yMax,
                        bounds: 'data',
                        afterBuildTicks: s => { s.ticks = leftTicks.map(v => ({ value: v })); },
                        afterFit: s => { s.width = 50; s.paddingTop = 0; s.paddingBottom = 0; },
                        grid: {
                            color: c => (c.tick && c.tick.value === 0) ? 'rgba(0,0,0,0)' : '#c0c0c0',
                            lineWidth: 1,
                            drawTicks: false
                        },
                        border: { color: '#000', width: 2 },
                        ticks: { padding: 17, color: '#000', font: tickFont, callback: v => String(v) }
                    },
                    y2: {
                        position: 'right',
                        min: yMin,
                        max: yMax,
                        bounds: 'data',
                        afterBuildTicks: s => { s.ticks = leftTicks.map(v => ({ value: v })); },
                        afterFit: s => { s.width = 50; s.paddingTop = 0; s.paddingBottom = 0; },
                        grid: { drawOnChartArea: false, drawTicks: false },
                        border: { color: '#000', width: 2 },
                        ticks: { padding: 17, color: '#000', font: tickFont, callback: (v, i) => rightTickLabels[i] }
                    }
                }
            },
            plugins: [decorPlugin]
        });
    </script>
</body>
</html>
